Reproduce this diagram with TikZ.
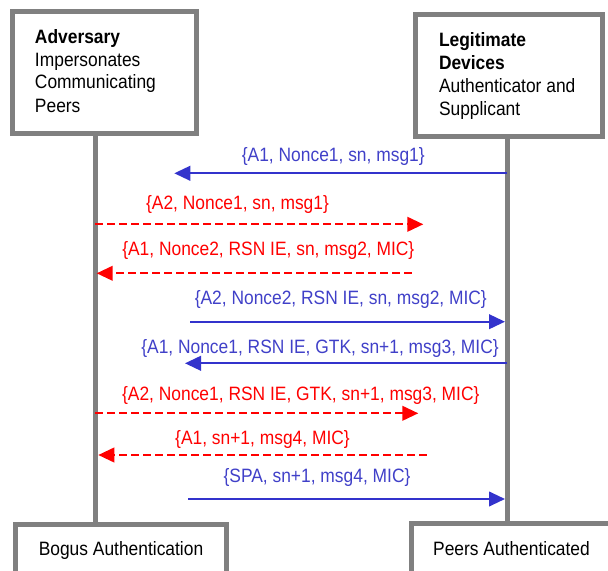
\documentclass[tikz,border=0pt]{standalone}
\usepackage{fontspec}
\setmainfont[FakeStretch=0.9]{Liberation Sans}
\usetikzlibrary{arrows.meta}
\definecolor{framegray}{RGB}{128,128,128}
\definecolor{msgblue}{RGB}{51,51,204}
\definecolor{msgbluetext}{RGB}{64,64,200}
\definecolor{msgred}{RGB}{255,0,0}
\begin{document}
\begin{tikzpicture}[x=0.75pt, y=-0.75pt,
  every node/.style={font=\fontsize{14.5}{17.25}\selectfont, inner sep=0pt, outer sep=0pt},
  frame/.style={draw=framegray, line width=3.75pt, fill=white},
  lifeline/.style={draw=framegray, line width=3.75pt},
  legit/.style={draw=msgblue, line width=1.5pt, -{Triangle[length=12pt,width=11pt]}},
  forged/.style={draw=msgred, line width=1.5pt, dash pattern=on 6pt off 3pt,
                 -{Triangle[length=12pt,width=11pt]}},
  legitlabel/.style={text=msgbluetext, anchor=base},
  forgedlabel/.style={text=msgred, anchor=base},
  % multi-line text: the base anchor sits on the last line
  roletext/.style={align=left, anchor=base west},
]
\useasboundingbox (0,0) rectangle (608,571);
\clip (0,0) rectangle (608,571);

% participant boxes
\node[frame, minimum width=138pt, minimum height=91.5pt] (adversary) at (104.5,72.5) {};
\node[frame, minimum width=140.25pt, minimum height=91.5pt] (legitimate) at (509,75.5) {};
\node[roletext] (advtext) at (35,112)
  {\textbf{Adversary}\\Impersonates\\Communicating\\Peers};
\node[roletext] (legtext) at (439,115)
  {\textbf{Legitimate}\\\textbf{Devices}\\Authenticator and\\Supplicant};

% outcome boxes (run off the lower edge)
\node[frame, anchor=base, minimum width=158.25pt, text height=22.9pt, text depth=45pt]
  (bogus) at (121,555) {Bogus Authentication};
\node[frame, anchor=base, minimum width=150pt, text height=23.6pt, text depth=45pt]
  (peers) at (511.5,555) {Peers Authenticated};

% lifelines
\coordinate (advx) at (95,0);
\coordinate (legx) at (507,0);
\draw[lifeline] (adversary.south -| advx) -- (bogus.north -| advx);
\draw[lifeline] (legitimate.south -| legx) -- (peers.north -| legx);

% message end points
\coordinate (m1a) at (507,173.3);   \coordinate (m1b) at (174.3,173.3);
\coordinate (m2a) at (95,224.3);    \coordinate (m2b) at (423.3,224.3);
\coordinate (m3a) at (411.7,273.3); \coordinate (m3b) at (96.7,273.3);
\coordinate (m4a) at (190,321.7);   \coordinate (m4b) at (505,321.7);
\coordinate (m5a) at (507,363.3);   \coordinate (m5b) at (185,363.3);
\coordinate (m6a) at (95,413.3);    \coordinate (m6b) at (418.3,413.3);
\coordinate (m7a) at (426.7,455);   \coordinate (m7b) at (98.3,455);
\coordinate (m8a) at (188.3,499);   \coordinate (m8b) at (505,499);

% messages
\draw[legit]  (m1a) -- (m1b);
\draw[forged] (m2a) -- (m2b);
\draw[forged] (m3a) -- (m3b);
\draw[legit]  (m4a) -- (m4b);
\draw[legit]  (m5a) -- (m5b);
\draw[forged] (m6a) -- (m6b);
\draw[forged] (m7a) -- (m7b);
\draw[legit]  (m8a) -- (m8b);

% message contents
\node[legitlabel]  (l1) at (333.3,161.3) {\{A1, Nonce1, sn, msg1\}};
\node[forgedlabel] (l2) at (237.5,209)   {\{A2, Nonce1, sn, msg1\}};
\node[forgedlabel] (l3) at (268.3,255.7) {\{A1, Nonce2, RSN IE, sn, msg2, MIC\}};
\node[legitlabel]  (l4) at (340.8,304.7) {\{A2, Nonce2, RSN IE, sn, msg2, MIC\}};
\node[legitlabel]  (l5) at (320,353.3)   {\{A1, Nonce1, RSN IE, GTK, sn+1, msg3, MIC\}};
\node[forgedlabel] (l6) at (300.8,400.7) {\{A2, Nonce1, RSN IE, GTK, sn+1, msg3, MIC\}};
\node[forgedlabel] (l7) at (262.5,444)   {\{A1, sn+1, msg4, MIC\}};
\node[legitlabel]  (l8) at (317,482.3)   {\{SPA, sn+1, msg4, MIC\}};
\end{tikzpicture}
\end{document}
